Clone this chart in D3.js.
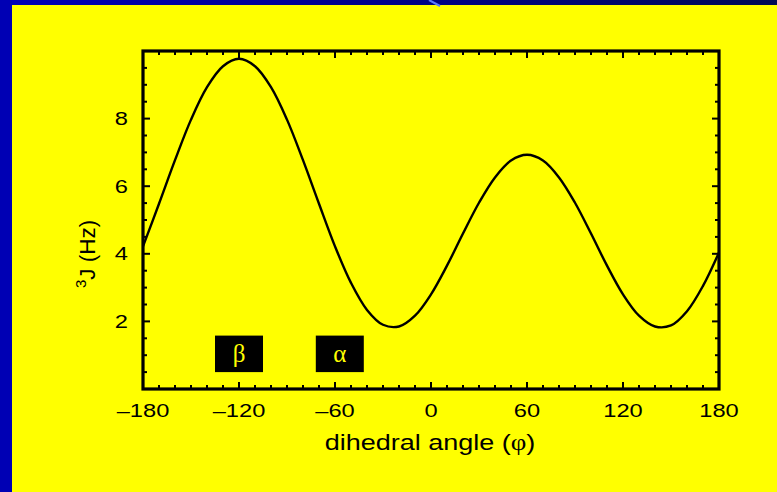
<!DOCTYPE html>
<html>
<head>
<meta charset="utf-8">
<script src="https://cdn.jsdelivr.net/npm/d3@7/dist/d3.min.js"></script>
<style>
  html, body { margin: 0; padding: 0; background: #ffff00; }
  svg { display: block; }
</style>
</head>
<body>
<svg id="chart" width="777" height="492"></svg>
<script>
// ---- data ----
const phi = [-180,-170,-160,-150,-140,-130,-120,-110,-100,-90,-80,-70,-60,-50,-40,-30,-20,-10,
             0,10,20,30,40,50,60,70,80,90,100,110,120,130,140,150,160,170,180];
const jValues = [4.22,5.48,6.77,7.97,8.93,9.55,9.77,9.55,8.93,7.97,6.77,5.48,4.22,3.14,2.34,1.90,1.85,2.17,
                 2.80,3.65,4.60,5.51,6.26,6.76,6.93,6.76,6.26,5.51,4.60,3.65,2.80,2.17,1.85,1.88,2.30,3.05,4.04];
const xTickLabels = [-180,-120,-60,0,60,120,180];
const yTickLabels = [2,4,6,8];
const regionLabels = ["β","α"];
const regionCenters = [-120,-57];
const xTitle = "dihedral angle (";
const yTitleSup = "3";
const yTitle = "J (Hz)";

// ---- drawing ----
const svg = d3.select("#chart");
const W = 777, H = 492;

// background frame
svg.append("rect").attr("x",0).attr("y",0).attr("width",W).attr("height",H).attr("fill","#ffff00");
const grad = svg.append("defs").append("linearGradient").attr("id","topbar")
  .attr("x1","0").attr("x2","1").attr("y1","0").attr("y2","0");
grad.append("stop").attr("offset","0").attr("stop-color","#0000b8");
grad.append("stop").attr("offset","0.5").attr("stop-color","#00008a");
grad.append("stop").attr("offset","1").attr("stop-color","#000a55");
svg.append("rect").attr("x",0).attr("y",0).attr("width",W).attr("height",5).attr("fill","url(#topbar)");
svg.append("rect").attr("x",0).attr("y",0).attr("width",12).attr("height",H).attr("fill","#0000b4");
svg.append("line").attr("x1",429).attr("y1",0).attr("x2",440).attr("y2",6)
  .attr("stroke","#5a78ff").attr("stroke-width",2);

const x = d3.scaleLinear().domain([-180,180]).range([143,719]);
const y = d3.scaleLinear().domain([0,10]).range([389,51]);

const g = svg.append("g");

// region boxes
regionCenters.forEach((c,i) => {
  g.append("rect")
    .attr("x", x(c-15)).attr("y", y(1.58))
    .attr("width", x(c+15)-x(c-15)).attr("height", y(0.5)-y(1.58))
    .attr("fill","#000000");
  g.append("text")
    .attr("x", x(c)).attr("y", (y(1.58)+y(0.5))/2 + 8)
    .attr("text-anchor","middle")
    .attr("font-family","'Liberation Serif','Times New Roman',serif")
    .attr("font-size",25)
    .attr("fill","#ffff00")
    .text(regionLabels[i]);
});

// curve
const line = d3.line().x((d,i)=>x(phi[i])).y(d=>y(d)).curve(d3.curveCatmullRom.alpha(0.5));
g.append("path").datum(jValues).attr("d",line)
  .attr("fill","none").attr("stroke","#000").attr("stroke-width",2.4).attr("stroke-linejoin","round");

// ticks (inward on all sides)
const xMinor = d3.range(-180,181,10);
const yMinor = d3.range(0,10.01,0.5);
const tickG = g.append("g").attr("stroke","#000").attr("stroke-width",2);
xMinor.forEach(v => {
  const len = (v % 60 === 0) ? 7 : 4;
  tickG.append("line").attr("x1",x(v)).attr("x2",x(v)).attr("y1",y(0)).attr("y2",y(0)-len);
  tickG.append("line").attr("x1",x(v)).attr("x2",x(v)).attr("y1",y(10)).attr("y2",y(10)+len);
});
yMinor.forEach(v => {
  const len = (Math.abs(v % 2) < 1e-9) ? 7 : 4;
  tickG.append("line").attr("y1",y(v)).attr("y2",y(v)).attr("x1",x(-180)).attr("x2",x(-180)+len);
  tickG.append("line").attr("y1",y(v)).attr("y2",y(v)).attr("x1",x(180)).attr("x2",x(180)-len);
});

// frame
g.append("rect").attr("x",x(-180)).attr("y",y(10))
  .attr("width",x(180)-x(-180)).attr("height",y(0)-y(10))
  .attr("fill","none").attr("stroke","#000").attr("stroke-width",3.2);

// stretched text helper
function stretchedText(px, py, txt, anchor, size, sx) {
  return g.append("text")
    .attr("transform", `translate(${px},${py}) scale(${sx},1)`)
    .attr("text-anchor", anchor)
    .attr("font-family", "'Liberation Sans', Arial, Helvetica, sans-serif")
    .attr("font-size", size)
    .attr("fill", "#000")
    .text(txt);
}
const fmt = v => v < 0 ? "\u2013" + Math.abs(v) : String(v);

xTickLabels.forEach(v => stretchedText(x(v), 417, fmt(v), "middle", 18.5, 1.28));
yTickLabels.forEach(v => stretchedText(128, y(v) + 6.5, fmt(v), "end", 18.5, 1.28));

// x title
const xt = stretchedText(430, 450, "", "middle", 22.5, 1.2);
xt.append("tspan").text(xTitle);
xt.append("tspan").attr("font-family","'Liberation Serif','Times New Roman',serif").text("φ");
xt.append("tspan").text(")");

// y title
const yt = g.append("text")
  .attr("transform","translate(95,288) rotate(-90)")
  .attr("text-anchor","start")
  .attr("font-family","'Liberation Sans', Arial, Helvetica, sans-serif")
  .attr("font-size",22.5)
  .attr("fill","#000");
yt.append("tspan").attr("font-size",15).attr("dy",-9).text(yTitleSup);
yt.append("tspan").attr("dy",9).text(yTitle);
</script>
</body>
</html>
